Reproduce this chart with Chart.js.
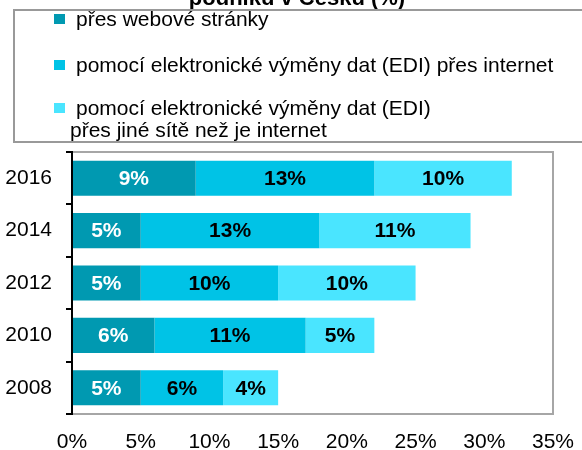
<!DOCTYPE html>
<html>
<head>
<meta charset="utf-8">
<script src="https://cdn.jsdelivr.net/npm/chart.js@4/dist/chart.umd.min.js"></script>
<style>
  html, body { margin: 0; padding: 0; background: #fff; }
  #wrap { width: 582px; height: 450px; position: relative; }
</style>
</head>
<body>
<div id="wrap"><canvas id="c" width="582" height="450"></canvas></div>
<script>
// Survey years, top to bottom
const years = ['2016', '2014', '2012', '2010', '2008'];

// Share of companies (%) by channel
const viaWeb = [9, 5, 5, 6, 5];
const viaEdiInternet = [13, 13, 10, 11, 6];
const viaEdiOther = [10, 11, 10, 5, 4];

const seriesNames = [
  'přes webové stránky',
  'pomocí elektronické výměny dat (EDI) přes internet',
  'pomocí elektronické výměny dat (EDI)'
];
const seriesNameExtra = 'přes jiné sítě než je internet';
const titleText = 'podniků v Česku (%)';

const xTicks = [0, 5, 10, 15, 20, 25, 30, 35];

const FONT = '"Liberation Sans", Arial, sans-serif';
const colors = ['#0099b1', '#00c3e6', '#4ae5ff'];
const labelColors = ['#ffffff', '#000000', '#000000'];

// Heading, legend frame and plot frame drawn on the canvas
const decorPlugin = {
  id: 'decor',
  beforeDraw(chart) {
    const ctx = chart.ctx;
    ctx.save();
    // clipped title line
    ctx.font = 'bold 22px ' + FONT;
    ctx.fillStyle = '#000';
    ctx.textAlign = 'center';
    ctx.textBaseline = 'alphabetic';
    ctx.fillText(titleText, 297, 5);

    // legend frame (runs off the right edge)
    ctx.strokeStyle = '#999';
    ctx.lineWidth = 2;
    ctx.strokeRect(14, 10, 600, 132);

    // legend entries
    ctx.font = '21px ' + FONT;
    ctx.textAlign = 'left';
    ctx.textBaseline = 'middle';
    const rowsY = [19, 65, 108];
    seriesNames.forEach((name, i) => {
      ctx.fillStyle = colors[i];
      ctx.fillRect(54, rowsY[i] - 5, 11, 10);
      ctx.fillStyle = '#000';
      ctx.fillText(name, 76, rowsY[i] + 1);
    });
    ctx.fillText(seriesNameExtra, 70, 131);
    ctx.restore();
  },
  afterDraw(chart) {
    const { ctx, chartArea: a } = chart;
    ctx.save();
    // grey frame on top, right and bottom
    ctx.strokeStyle = '#a6a6a6';
    ctx.lineWidth = 2;
    ctx.beginPath();
    ctx.moveTo(a.left, a.top);
    ctx.lineTo(a.right, a.top);
    ctx.lineTo(a.right, a.bottom);
    ctx.lineTo(a.left, a.bottom);
    ctx.stroke();
    // black value axis on the left
    ctx.strokeStyle = '#000';
    ctx.beginPath();
    ctx.moveTo(a.left, a.top - 1);
    ctx.lineTo(a.left, a.bottom + 1);
    ctx.stroke();
    // category boundary ticks
    const n = years.length;
    const step = (a.bottom - a.top) / n;
    for (let i = 0; i <= n; i++) {
      const y = Math.round(a.top + i * step);
      ctx.beginPath();
      ctx.moveTo(a.left - 6, y);
      ctx.lineTo(a.left, y);
      ctx.stroke();
    }

    // value labels at the centre of each segment
    ctx.font = 'bold 21px ' + FONT;
    ctx.textAlign = 'center';
    ctx.textBaseline = 'middle';
    chart.data.datasets.forEach((ds, di) => {
      const meta = chart.getDatasetMeta(di);
      meta.data.forEach((bar, i) => {
        const cx = (bar.x + bar.base) / 2;
        ctx.fillStyle = labelColors[di];
        ctx.fillText(ds.data[i] + '%', cx, bar.y + 1);
      });
    });
    ctx.restore();
  }
};

new Chart(document.getElementById('c'), {
  type: 'bar',
  data: {
    labels: years,
    datasets: [
      { label: seriesNames[0], data: viaWeb, backgroundColor: colors[0] },
      { label: seriesNames[1], data: viaEdiInternet, backgroundColor: colors[1] },
      { label: seriesNames[2], data: viaEdiOther, backgroundColor: colors[2] }
    ]
  },
  options: {
    responsive: false,
    animation: false,
    indexAxis: 'y',
    layout: { padding: { top: 152, right: 29, left: 0, bottom: 0 } },
    datasets: { bar: { categoryPercentage: 0.67, barPercentage: 1.0, borderWidth: 0 } },
    plugins: { legend: { display: false }, tooltip: { enabled: false }, title: { display: false } },
    scales: {
      x: {
        stacked: true,
        min: 0,
        max: 35,
        afterBuildTicks(scale) { scale.ticks = xTicks.map(v => ({ value: v })); },
        afterFit(scale) {
          scale.height = 36;
          scale.paddingLeft = 0;
          scale.paddingRight = 0;
        },
        grid: { display: false, drawTicks: false },
        border: { display: false },
        ticks: {
          padding: 16,
          color: '#000',
          font: { family: FONT, size: 21 },
          callback: v => v + '%'
        }
      },
      y: {
        stacked: true,
        afterFit(scale) { scale.width = 72; },
        grid: { display: false, drawTicks: false },
        border: { display: false },
        ticks: {
          padding: 20,
          color: '#000',
          font: { family: FONT, size: 21 }
        }
      }
    }
  },
  plugins: [decorPlugin]
});
</script>
</body>
</html>
